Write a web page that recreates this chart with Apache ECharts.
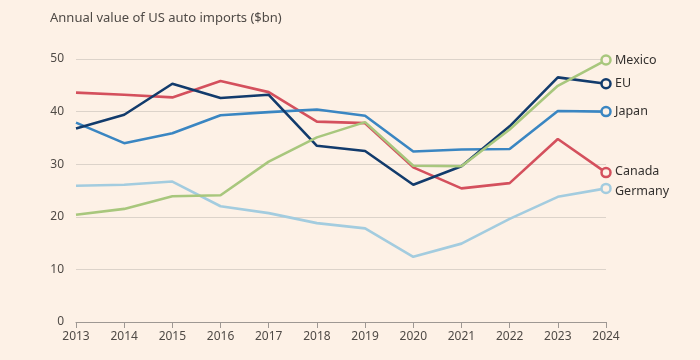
<!DOCTYPE html>
<html>
<head>
<meta charset="utf-8">
<script src="https://cdn.jsdelivr.net/npm/echarts@6/dist/echarts.min.js"></script>
<style>
html,body{margin:0;padding:0;background:#FDF1E6;}
#c{width:700px;height:360px;}
</style>
</head>
<body>
<div id="c"></div>
<script>
const years = ['2013','2014','2015','2016','2017','2018','2019','2020','2021','2022','2023','2024'];
const germany = [25.9, 26.1, 26.7, 22.0, 20.7, 18.8, 17.8, 12.4, 14.9, 19.6, 23.8, 25.4];
const canada  = [43.6, 43.2, 42.7, 45.8, 43.7, 38.1, 37.8, 29.4, 25.4, 26.4, 34.8, 28.4];
const japan   = [37.9, 34.0, 35.9, 39.3, 39.9, 40.4, 39.2, 32.4, 32.8, 32.9, 40.1, 40.0];
const eu      = [36.8, 39.4, 45.3, 42.6, 43.2, 33.5, 32.5, 26.1, 29.6, 37.2, 46.5, 45.3];
const mexico  = [20.4, 21.5, 23.9, 24.1, 30.5, 35.1, 38.0, 29.7, 29.6, 36.6, 44.9, 49.8];
const yTicks = [0, 10, 20, 30, 40, 50];

const bg = '#FDF1E6';
const font = 'Noto Sans';
function mk(name, data, color, offY) {
  const last = data.length - 1;
  return {
    name: name, type: 'line', data: data,
    lineStyle: {color: color, width: 2.6},
    itemStyle: {color: bg, borderColor: color, borderWidth: 2.5},
    symbol: 'circle', showAllSymbol: true,
    symbolSize: (v, p) => p.dataIndex === last ? 9 : 0,
    silent: true, animation: false,
    endLabel: {
      show: true, formatter: name, color: '#33302e',
      fontFamily: font, fontSize: 12.5, distance: 9,
      offset: [0, offY || 0]
    }
  };
}
const chart = echarts.init(document.getElementById('c'), null, {renderer: 'canvas'});
chart.setOption({
  backgroundColor: bg,
  animation: false,
  title: {
    text: 'Annual value of US auto imports ($bn)', left: 45, top: 7,
    textStyle: {fontFamily: font, fontSize: 13, fontWeight: 'normal', color: '#4f4a46'}
  },
  grid: {left: 76, right: 94, top: 59, bottom: 38, containLabel: false},
  xAxis: {
    type: 'category', data: years, boundaryGap: false,
    axisLine: {lineStyle: {color: '#9e9893', width: 1.2}},
    axisTick: {show: true, length: 6, lineStyle: {color: '#9e9893'}},
    axisLabel: {fontFamily: font, fontSize: 12, color: '#4f4a46', margin: 9},
    splitLine: {show: false}
  },
  yAxis: {
    type: 'value', min: yTicks[0], max: yTicks[yTicks.length - 1], interval: 10,
    axisLine: {show: false}, axisTick: {show: false},
    axisLabel: {fontFamily: font, fontSize: 12, color: '#4f4a46', margin: 12},
    splitLine: {lineStyle: {color: '#dcd3ca', width: 1}}
  },
  series: [
    mk('Germany', germany, '#A3CCDF', 3),
    mk('Canada', canada, '#D4505D', -1),
    mk('Japan', japan, '#3A86C2', 0),
    mk('EU', eu, '#123B6C', 0),
    mk('Mexico', mexico, '#A8C77D', 0)
  ]
});
</script>
</body>
</html>
